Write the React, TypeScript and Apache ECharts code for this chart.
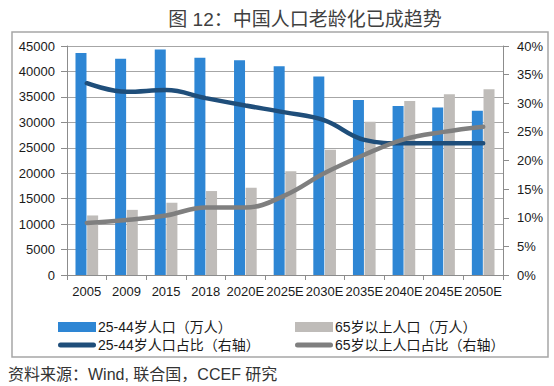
import React, { useEffect, useRef } from "react";
import * as echarts from "echarts";

const categories = ["2005", "2009", "2015", "2018", "2020E", "2025E", "2030E", "2035E", "2040E", "2045E", "2050E"];
const pop2544 = [43600, 42500, 44300, 42700, 42200, 41000, 39000, 34400, 33200, 32900, 32300];
const pop65 = [11700, 12800, 14200, 16500, 17150, 20400, 24600, 30100, 34200, 35500, 36500];
const ratio2544 = [0.335, 0.32, 0.323, 0.309, 0.296, 0.284, 0.27, 0.236, 0.23, 0.23, 0.23];
const ratio65 = [0.091, 0.096, 0.104, 0.118, 0.118, 0.139, 0.178, 0.21, 0.237, 0.25, 0.259];
const leftTicks = { min: 0, max: 45000, interval: 5000 };
const rightTicks = { min: 0, max: 0.4, interval: 0.05 };

const names = ["25-44岁人口（万人）", "65岁以上人口（万人）", "25-44岁人口占比（右轴）", "65岁以上人口占比（右轴）"];
const colors = ["#2E86D4", "#BFBCB9", "#1F4E7A", "#7F7F7F"];
const FONT = "'Liberation Sans', 'Noto Sans CJK SC', sans-serif";
const LINE_ICON = "path://M2.5,0 L35.5,0 A2.5,2.5 0 0 1 35.5,5 L2.5,5 A2.5,2.5 0 0 1 2.5,0 Z";

export default function App() {
  const ref = useRef<HTMLDivElement>(null);
  useEffect(() => {
    if (!ref.current) return;
    const chart = echarts.init(ref.current, null, { renderer: "svg" });
    const axisLine = { show: true, lineStyle: { color: "#8c8c8c", width: 1 } };
    const axisLabel = { color: "#1a1a1a", fontSize: 13, fontFamily: FONT };
    const legendBase = {
      orient: "vertical",
      top: 315,
      itemWidth: 38,
      itemHeight: 10,
      itemGap: 4,
      textStyle: { fontSize: 14, color: "#1a1a1a", fontFamily: FONT, padding: [0, 0, 0, -3] },
    };
    chart.setOption({
      animation: false,
      backgroundColor: "#fff",
      textStyle: { fontFamily: FONT },
      title: {
        text: "图 12：中国人口老龄化已成趋势",
        left: 300,
        top: 5,
        textAlign: "center",
        textStyle: { fontSize: 19, fontWeight: "normal", color: "#404040", fontFamily: FONT },
      },
      graphic: [
        {
          type: "rect",
          shape: { x: 12, y: 32, width: 536, height: 325 },
          style: { fill: "none", stroke: "#a6a6a6", lineWidth: 1.5 },
          silent: true,
        },
        {
          type: "text",
          left: 8,
          top: 366,
          style: { text: "资料来源：Wind, 联合国，CCEF 研究", fontSize: 16, fill: "#333", fontFamily: FONT },
        },
      ],
      legend: [
        {
          ...legendBase,
          left: 53,
          data: [{ name: names[0], icon: "rect" }, { name: names[2], icon: LINE_ICON }],
        },
        {
          ...legendBase,
          left: 290,
          data: [{ name: names[1], icon: "rect" }, { name: names[3], icon: LINE_ICON }],
        },
      ],
      grid: { left: 67, right: 51, top: 46, bottom: 111 },
      xAxis: {
        type: "category",
        data: categories,
        axisLine,
        axisTick: { show: true, length: 5, lineStyle: { color: "#8c8c8c" } },
        axisLabel: { ...axisLabel, margin: 10, interval: 0 },
      },
      yAxis: [
        {
          type: "value",
          ...leftTicks,
          axisLine,
          axisTick: { show: true, length: 6, lineStyle: { color: "#8c8c8c" } },
          axisLabel: { ...axisLabel, margin: 12, formatter: (v: number) => String(v) },
          splitLine: { show: true, lineStyle: { color: "#a6a6a6", width: 1 } },
        },
        {
          type: "value",
          ...rightTicks,
          axisLine,
          axisTick: { show: true, length: 6, lineStyle: { color: "#8c8c8c" } },
          axisLabel: {
            ...axisLabel,
            margin: 14,
            formatter: (v: number) => Math.round(v * 100) + "%",
          },
          splitLine: { show: false },
        },
      ],
      series: [
        {
          name: names[0],
          type: "bar",
          data: pop2544,
          barWidth: 11,
          barGap: "6%",
          itemStyle: { color: colors[0] },
        },
        {
          name: names[1],
          type: "bar",
          data: pop65,
          barWidth: 11,
          barGap: "6%",
          itemStyle: { color: colors[1] },
        },
        {
          name: names[2],
          type: "line",
          yAxisIndex: 1,
          data: ratio2544,
          smooth: 0.4,
          symbol: "none",
          lineStyle: { color: colors[2], width: 4.5, cap: "round" },
          itemStyle: { color: colors[2] },
        },
        {
          name: names[3],
          type: "line",
          yAxisIndex: 1,
          data: ratio65,
          smooth: 0.4,
          symbol: "none",
          lineStyle: { color: colors[3], width: 4.5, cap: "round" },
          itemStyle: { color: colors[3] },
        },
      ],
    });
    return () => chart.dispose();
  }, []);
  return <div ref={ref} style={{ width: 554, height: 386, position: "absolute", left: 0, top: 0 }} />;
}
